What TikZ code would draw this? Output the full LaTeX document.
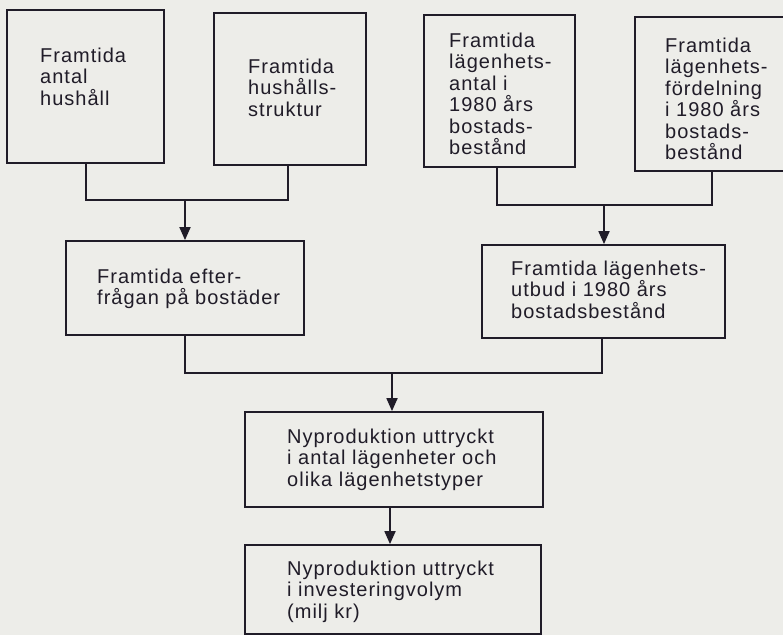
\documentclass[tikz,border=0pt]{standalone}
\usepackage{fontspec}
\setmainfont{Liberation Sans}[LetterSpace=5]
\usetikzlibrary{arrows.meta}
\definecolor{paper}{HTML}{EDEDE9}
\definecolor{ink}{HTML}{201C28}
\tikzset{
  boxnode/.style={draw=ink, line width=1.8pt, rectangle, inner sep=0pt},
  txt/.style={anchor=north west, inner sep=0pt, align=left, text=ink,
    font=\fontsize{20}{21.5}\selectfont},
  conn/.style={draw=ink, line width=1.8pt},
  arr/.style={conn, -{Triangle[length=13pt,width=11pt]}},
}
\newcommand{\boxat}[5]{% name, x1, y1, x2, y2
  \node[boxnode, minimum width={#4-#2}, minimum height={#5-#3}] (#1) at ({(#2+#4)/2},{(#3+#5)/2}) {};}
\begin{document}
\begin{tikzpicture}[x=1pt,y=-1pt]
\fill[paper] (0,0) rectangle (783,635);
\useasboundingbox (0,0) rectangle (783,635);
% boxes
\boxat{A}{7}{10}{164}{163}
\boxat{B}{214}{13}{366}{165}
\boxat{F}{424}{15}{575}{167}
\boxat{G}{635}{17}{786}{171}
\boxat{C}{66}{241}{304}{335}
\boxat{D}{482}{245}{725}{338}
\boxat{E}{245}{412}{543}{507}
\boxat{H}{245}{545}{541}{634}
% texts
\node[txt] (tA) at (40,47.5) {Framtida\\antal\\hushåll};
\node[txt] (tB) at (248,58.5) {Framtida\\hushålls-\\struktur};
\node[txt] (tF) at (449,32.5) {Framtida\\lägenhets-\\antal i\\1980 års\\bostads-\\bestånd};
\node[txt] (tG) at (665,37.5) {Framtida\\lägenhets-\\fördelning\\i 1980 års\\bostads-\\bestånd};
\node[txt] (tC) at (97,268.5) {Framtida efter-\\frågan på bostäder};
\node[txt] (tD) at (511,260.5) {Framtida lägenhets-\\utbud i 1980 års\\bostadsbestånd};
\node[txt] (tE) at (287,428.5) {Nyproduktion uttryckt\\i antal lägenheter och\\olika lägenhetstyper};
\node[txt] (tH) at (287,560.5) {Nyproduktion uttryckt\\i investeringvolym\\(milj kr)};
% connectors
\coordinate (j1) at (185,200);
\coordinate (j2) at (604,205);
\coordinate (j3) at (392,373);
\draw[conn] (A.south -| 86,0) |- (j1) -| (B.south -| 288,0);
\draw[arr] (j1) -- (C.north -| j1);
\draw[conn] (F.south -| 497,0) |- (j2) -| (G.south -| 712,0);
\draw[arr] (j2) -- (D.north -| j2);
\draw[conn] (C.south -| 185,0) |- (j3) -| (D.south -| 602,0);
\draw[arr] (j3) -- (E.north -| j3);
\draw[arr] (E.south -| 390,0) -- (H.north -| 390,0);
\end{tikzpicture}
\end{document}
